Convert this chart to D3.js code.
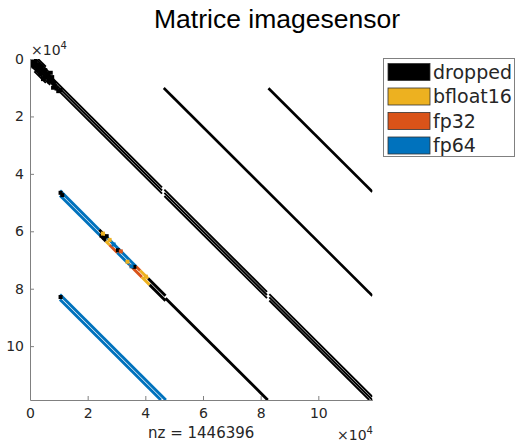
<!DOCTYPE html>
<html>
<head>
<meta charset="utf-8">
<script src="https://cdn.jsdelivr.net/npm/d3@7"></script>
<style>
  body { margin: 0; background: #fff; }
  text { font-family: "DejaVu Sans", sans-serif; fill: #262626; }
</style>
</head>
<body>
<script>
// matrix size and nonzero count
const n = 118758;
const nz = 1446396;

const categories = ["dropped", "bfloat16", "fp32", "fp64"];
const catColors = ["#000000", "#EDB120", "#D95319", "#0072BD"];

const tickValues = [0, 20000, 40000, 60000, 80000, 100000];

// diagonal runs: [category index, diagonal offset (col - row), first col, last col]
// main diagonal: three close lanes, broken twice
const mainRuns = [
  [0, -1100, 0, 45800], [0, 0, 0, 45800], [0, 1100, 0, 45800],
  [0, -1100, 46600, 82200], [0, 0, 46600, 82200], [0, 1100, 46600, 82200],
  [0, -1100, 83000, n], [0, 0, 83000, n], [0, 1100, 83000, n],
  // solid and wider near the origin
  [0, -550, 0, 9000], [0, 550, 0, 9000],
  [0, -2000, 0, 7000], [0, 2000, 0, 7000], [0, -2800, 1500, 5500], [0, 2800, 1500, 5500]
];

// upper off-diagonals, single lanes
const upperRuns = [
  [0, 36300, 46400, n],
  [0, 72500, 82700, n]
];

// lower off-diagonal at -36300, two lanes with mixed precision
const lowerRuns1 = [
  // upper-right lane
  [3, -35440, 10400, 24000], [0, -35440, 24000, 25500], [1, -35440, 25500, 26500],
  [3, -35440, 26500, 36800], [2, -35440, 36800, 38200], [1, -35440, 38200, 41000],
  [0, -35440, 41000, 47000],
  // lower-left lane
  [3, -37160, 10400, 24500], [0, -37160, 24500, 26300], [1, -37160, 26300, 27600],
  [2, -37160, 27600, 30300], [3, -37160, 30300, 34500], [2, -37160, 34500, 38800],
  [1, -37160, 38800, 41500], [0, -37160, 41500, 47000],
  // single tail down to the last row
  [0, -36300, 47000, n]
];

// lower off-diagonal at -72500, all fp64
const lowerRuns2 = [
  [3, -71640, 10400, n], [3, -73360, 10400, n]
];

// scattered nonzeros: [category, col, row]
const specks = [
  [0, 500, 1800], [0, 1800, 600], [0, 2500, 3800], [0, 4000, 2600], [0, 3600, 5200],
  [0, 5300, 3900], [0, 5000, 6500], [0, 6400, 5200], [0, 6600, 7800], [0, 7700, 6300],
  [0, 2900, 2000], [0, 8000, 10000], [0, 9200, 10300], [0, 8600, 9300], [0, 10600, 10800],
  [0, 1200, 2600], [0, 4500, 7000], [0, 7200, 4800], [0, 9800, 11200],
  [0, 10600, 46600], [0, 11200, 47400], [0, 24800, 61500], [0, 25800, 62300],
  [0, 26600, 61700], [1, 27600, 63000], [1, 25300, 60800], [0, 30500, 66600],
  [1, 33800, 70600], [0, 36200, 72400], [1, 40200, 75800], [0, 10600, 82900],
  [3, 29000, 64600], [3, 35200, 72200], [2, 31500, 67000]
];

const W = 516, H = 442;
const x = d3.scaleLinear().domain([0, n]).range([30, 372.4]);
const y = d3.scaleLinear().domain([0, n]).range([59, 400]);

const svg = d3.select("body").append("svg")
  .attr("width", W).attr("height", H);

svg.append("defs").append("clipPath").attr("id", "plot")
  .append("rect")
  .attr("x", x(0)).attr("y", y(0))
  .attr("width", x(n) - x(0)).attr("height", y(n) - y(0));

const marks = svg.append("g").attr("clip-path", "url(#plot)");

const line = d3.line().x(p => x(p[0])).y(p => y(p[1]));

function drawRuns(runs, width) {
  marks.append("g").selectAll("path")
    .data(runs)
    .join("path")
    .attr("d", r => {
      const d = r[1];
      const a = Math.max(r[2], d, 0);
      const b = Math.min(r[3], n + d, n);
      return line([[a, a - d], [b, b - d]]);
    })
    .attr("fill", "none")
    .attr("stroke", r => catColors[r[0]])
    .attr("stroke-width", width)
    .attr("stroke-linecap", "butt");
}

drawRuns(mainRuns, 1.9);
drawRuns(upperRuns, 2.6);
drawRuns(lowerRuns2, 2.9);
drawRuns(lowerRuns1, 2.9);

marks.append("g").selectAll("rect")
  .data(specks)
  .join("rect")
  .attr("x", s => x(s[1]) - 2)
  .attr("y", s => y(s[2]) - 2)
  .attr("width", 4).attr("height", 4)
  .attr("fill", s => catColors[s[0]]);

// axes, ticks pointing inward
const xAxis = d3.axisBottom(x).tickValues(tickValues)
  .tickFormat(d => d / 1e4).tickSizeInner(-4).tickSizeOuter(0).tickPadding(8);
const yAxis = d3.axisLeft(y).tickValues(tickValues)
  .tickFormat(d => d / 1e4).tickSizeInner(-4).tickSizeOuter(0).tickPadding(6);

const gx = svg.append("g").attr("transform", `translate(0,${y(n)})`).call(xAxis);
const gy = svg.append("g").attr("transform", `translate(${x(0)},0)`).call(yAxis);
[gx, gy].forEach(g => {
  g.select(".domain").attr("stroke", "#808080");
  g.selectAll(".tick line").attr("stroke", "#808080");
  g.selectAll(".tick text").attr("font-size", 14).attr("fill", "#262626")
    .attr("font-family", "DejaVu Sans");
});

// exponent labels
function exponent(px, py) {
  const t = svg.append("text").attr("x", px).attr("y", py).attr("font-size", 14);
  t.append("tspan").text("\u00d710");
  t.append("tspan").attr("font-size", 10).attr("dy", -6).text("4");
}
exponent(31, 55);
exponent(337, 440);

svg.append("text")
  .attr("x", (x(0) + x(n)) / 2).attr("y", 438)
  .attr("text-anchor", "middle").attr("font-size", 15)
  .text(`nz = ${nz}`);

svg.append("text")
  .attr("x", 277).attr("y", 28)
  .attr("text-anchor", "middle")
  .attr("font-size", 26.5)
  .style("font-family", "'Liberation Sans', sans-serif")
  .style("fill", "#000")
  .text("Matrice imagesensor");

// legend
const legend = svg.append("g").attr("transform", "translate(383.5,58.5)");
legend.append("rect")
  .attr("width", 131).attr("height", 98)
  .attr("fill", "#fff").attr("stroke", "#808080");
const item = legend.selectAll("g.item")
  .data(categories)
  .join("g")
  .attr("class", "item")
  .attr("transform", (d, i) => `translate(4.5,${5 + i * 24.5})`);
item.append("rect")
  .attr("width", 42).attr("height", 17)
  .attr("fill", (d, i) => catColors[i])
  .attr("stroke", "#333").attr("stroke-width", 0.8);
item.append("text")
  .attr("x", 45).attr("y", 15)
  .attr("font-size", 19)
  .text(d => d);
</script>
</body>
</html>
